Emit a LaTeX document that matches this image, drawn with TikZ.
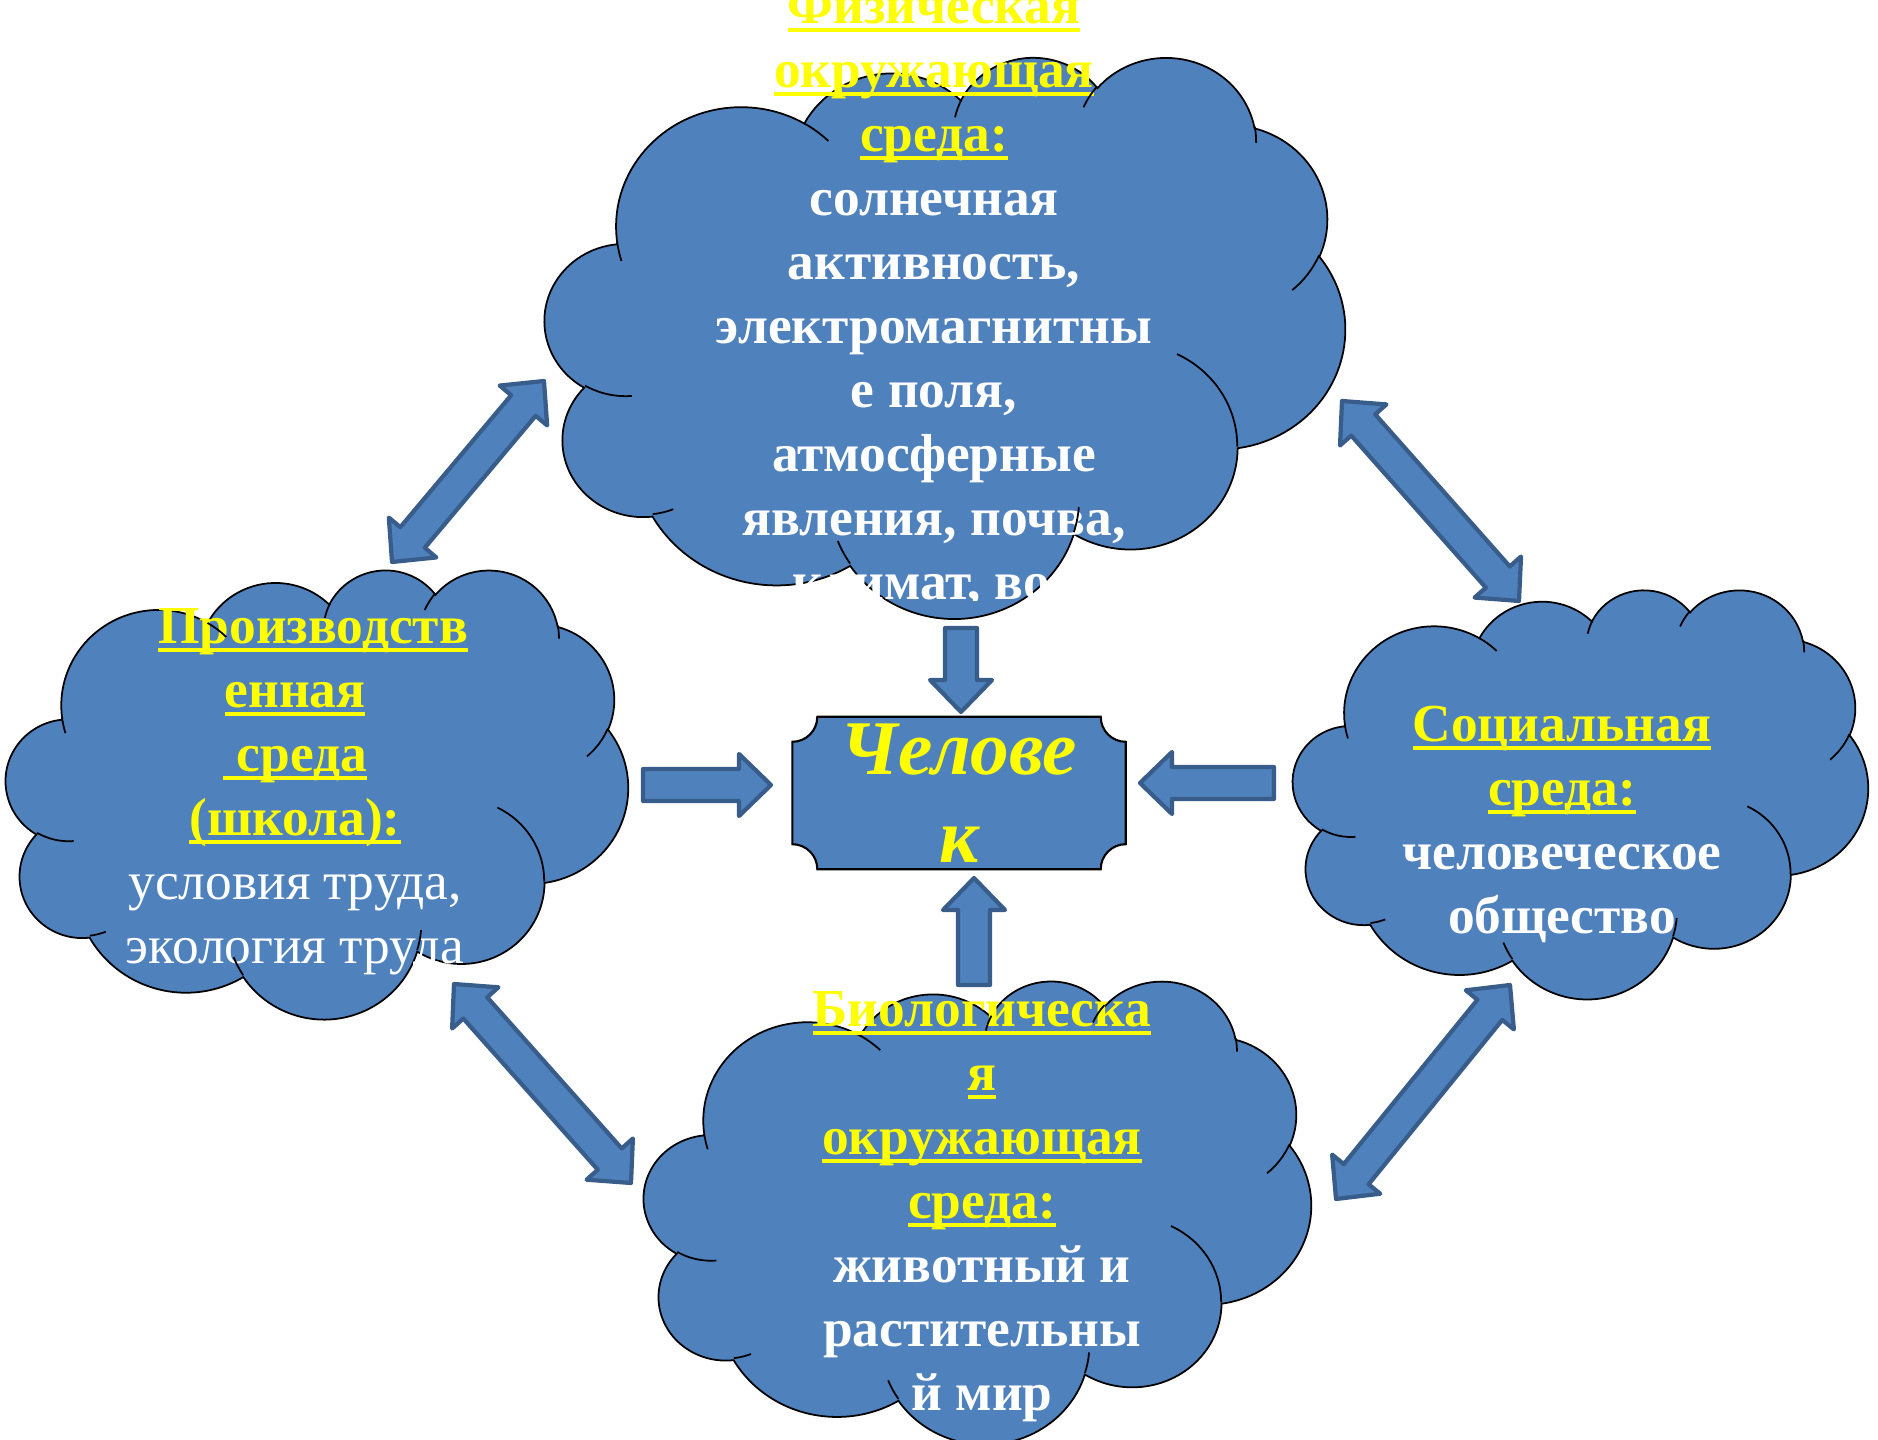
\documentclass[tikz,border=0pt]{standalone}
\usepackage{fontspec}
\setmainfont{Liberation Serif}
\usetikzlibrary{calc,backgrounds}

\definecolor{cloudblue}{RGB}{79,129,189}
\definecolor{arrowrim}{RGB}{56,93,138}
\definecolor{headyellow}{RGB}{255,255,0}

\tikzset{
  cloudbody/.style={fill=cloudblue, draw=black, line width=0.5pt},
  cloudcrease/.style={draw=black, line width=0.5pt},
  blockarrow/.style={fill=cloudblue, draw=arrowrim, line width=1.2pt, line join=round},
  plaque/.style={fill=cloudblue, draw=black, line width=0.6pt},
  cloudtext/.style={align=center, text=white, inner sep=0pt,
    font=\fontsize{15.2}{18.2}\selectfont\bfseries},
  mantext/.style={align=center, text=headyellow, inner sep=0pt,
    minimum width=33.2mm, minimum height=15.1mm,
    font=\fontsize{22}{25}\selectfont\bfseries\itshape},
}

% yellow underlined heading
\newcommand\headul[1]{{\leavevmode\color{headyellow}\setbox0\hbox{#1}%
  \rlap{\rule[-2.3pt]{\wd0}{1.1pt}}\box0}}

% cloud outline: left, top, width, height (px)
\newcommand\cloudshape[4]{%
  \begin{scope}[shift={(#1,#2)}, xscale={#3/43.2}, yscale={#4/43.2}]
    \draw[cloudbody] (3.9,14.37)
      arc (-187.75:-59.64:6.753 and 9.19)
      arc (-152.02:-45.45:5.333 and 7.267)
      arc (-153.49:-37.33:4.365 and 5.945)
      arc (-139.72:-10.21:4.857 and 6.595)
      arc (-74.77:23.21:5.333 and 7.273)
      arc (-37.53:81.86:6.775 and 9.22)
      arc (0.46:121.98:5.785 and 7.867)
      arc (16.85:146.23:6.752 and 9.215)
      arc (58.99:150.19:7.72 and 10.543)
      arc (83.31:223.11:4.36 and 5.918)
      arc (120.36:264.11:4.345 and 5.945)
      -- cycle;
  \end{scope}}

% the little inner arcs of a cloud
\newcommand\cloudcreases[4]{%
  \begin{scope}[shift={(#1,#2)}, xscale={#3/43.2}, yscale={#4/43.2}]
    \draw[cloudcrease] (4.693,26.177) arc (85.55:120.36:4.345 and 5.945)
      (6.928,34.899) arc (68.23:83.31:4.36 and 5.918)
      (16.478,39.09) arc (146.23:158.47:6.752 and 9.215)
      (28.827,34.751) arc (4.74:16.85:6.752 and 9.215)
      (34.129,22.954) arc (-64.02:0.46:5.785 and 7.867)
      (41.798,15.354) arc (23.21:49.64:5.333 and 7.273)
      (38.324,5.426) arc (-10.21:0.82:4.857 and 6.595)
      (29.078,3.952) arc (-156.3:-139.72:4.857 and 6.595)
      (22.141,4.72) arc (-167.72:-153.49:4.365 and 5.945)
      (14,5.192) arc (-59.64:-45.73:6.753 and 9.19)
      (4.127,15.789) arc (163.19:172.25:6.753 and 9.19);
  \end{scope}}

% block arrow from #1 (tail) to #2 (tip)
\newcommand\singlearrow[2]{%
  \draw[blockarrow] ($(#1)!1.6mm!90:(#2)$)
    -- ($(#2)!3.2mm!(#1)!1.6mm!-90:(#1)$) -- ($(#2)!3.2mm!(#1)!3.1mm!-90:(#1)$)
    -- (#2)
    -- ($(#2)!3.2mm!(#1)!3.1mm!90:(#1)$) -- ($(#2)!3.2mm!(#1)!1.6mm!90:(#1)$)
    -- ($(#1)!1.6mm!-90:(#2)$) -- cycle;}

% block arrow with heads at both ends
\newcommand\twowayarrow[2]{%
  \draw[blockarrow] (#1)
    -- ($(#1)!3.2mm!(#2)!3.1mm!90:(#2)$) -- ($(#1)!3.2mm!(#2)!1.6mm!90:(#2)$)
    -- ($(#2)!3.2mm!(#1)!1.6mm!-90:(#1)$) -- ($(#2)!3.2mm!(#1)!3.1mm!-90:(#1)$)
    -- (#2)
    -- ($(#2)!3.2mm!(#1)!3.1mm!90:(#1)$) -- ($(#2)!3.2mm!(#1)!1.6mm!90:(#1)$)
    -- ($(#1)!3.2mm!(#2)!1.6mm!-90:(#2)$) -- ($(#1)!3.2mm!(#2)!3.1mm!-90:(#2)$)
    -- cycle;}

\begin{document}
\begin{tikzpicture}[x=0.1mm, y=-0.1mm]
  \useasboundingbox (0,0) rectangle (1878,1440);
  \clip (0,0) rectangle (1878,1440);

  % clouds
  \cloudshape{545}{56}{800}{561}
  \cloudshape{6}{569}{622}{449}
  \cloudshape{1293}{589}{575}{409}
  \cloudshape{644}{980}{667}{463}

  % texts
  \begin{scope}
    \clip (545,0) rectangle (1345,601);
    \node[cloudtext] (phys) at (934,299) {\strut\headul{Физическая}\\
      \headul{окружающая}\\ \headul{среда:}\\ солнечная\\ активность,\\
      электромагнитны\\ е поля,\\ атмосферные\\ явления, почва,\\
      климат, вод\strut};
  \end{scope}
  \node[cloudtext] (prod) at (295,791) {\strut\hspace*{3.6mm}\headul{Производств}\\
    \headul{енная}\\ \headul{\ среда}\\ \headul{(школа):}\\
    {\mdseries условия труда,}\\ {\mdseries экология труда}\strut};
  \node[cloudtext] (soc) at (1562,825) {\strut\headul{Социальная}\\
    \headul{среда:}\\ человеческое\\ общество\strut};
  \node[cloudtext] (bio) at (982,1206) {\strut\headul{Биологическа}\\
    \headul{я}\\ \headul{окружающая}\\ \headul{среда:}\\ животный и\\
    растительны\\ й мир\strut};

  \cloudcreases{545}{56}{800}{561}
  \cloudcreases{6}{569}{622}{449}
  \cloudcreases{1293}{589}{575}{409}
  \cloudcreases{644}{980}{667}{463}

  % centre
  \node[mantext] (man) at (959,793) {Челове\\к};
  \begin{scope}[on background layer]
    \draw[plaque] ($(man.north west)+(25,0)$) -- ($(man.north east)+(-25,0)$)
      arc (180:270:2.5mm) -- ($(man.south east)+(0,-25)$)
      arc (90:180:2.5mm) -- ($(man.south west)+(25,0)$)
      arc (0:90:2.5mm) -- ($(man.north west)+(0,25)$)
      arc (270:360:2.5mm) -- cycle;
  \end{scope}

  % arrows
  \coordinate (tlA) at (392,562);
  \coordinate (tlB) at (544,381);
  \coordinate (trA) at (1342,401);
  \coordinate (trB) at (1519,601);
  \coordinate (blA) at (454,984);
  \coordinate (blB) at (631,1183);
  \coordinate (brA) at (1510,985);
  \coordinate (brB) at (1336,1199);
  \coordinate (prodOut) at (643,785);
  \coordinate (prodIn) at (771,785);
  \coordinate (physOut) at (961,628);
  \coordinate (physIn) at (961,712);
  \coordinate (socOut) at (1274,783);
  \coordinate (socIn) at (1140,783);
  \coordinate (bioOut) at (974,985);
  \coordinate (bioIn) at (974,878);

  \twowayarrow{tlA}{tlB}
  \twowayarrow{trA}{trB}
  \twowayarrow{blA}{blB}
  \twowayarrow{brA}{brB}
  \singlearrow{prodOut}{prodIn}
  \singlearrow{physOut}{physIn}
  \singlearrow{socOut}{socIn}
  \singlearrow{bioOut}{bioIn}
\end{tikzpicture}
\end{document}
